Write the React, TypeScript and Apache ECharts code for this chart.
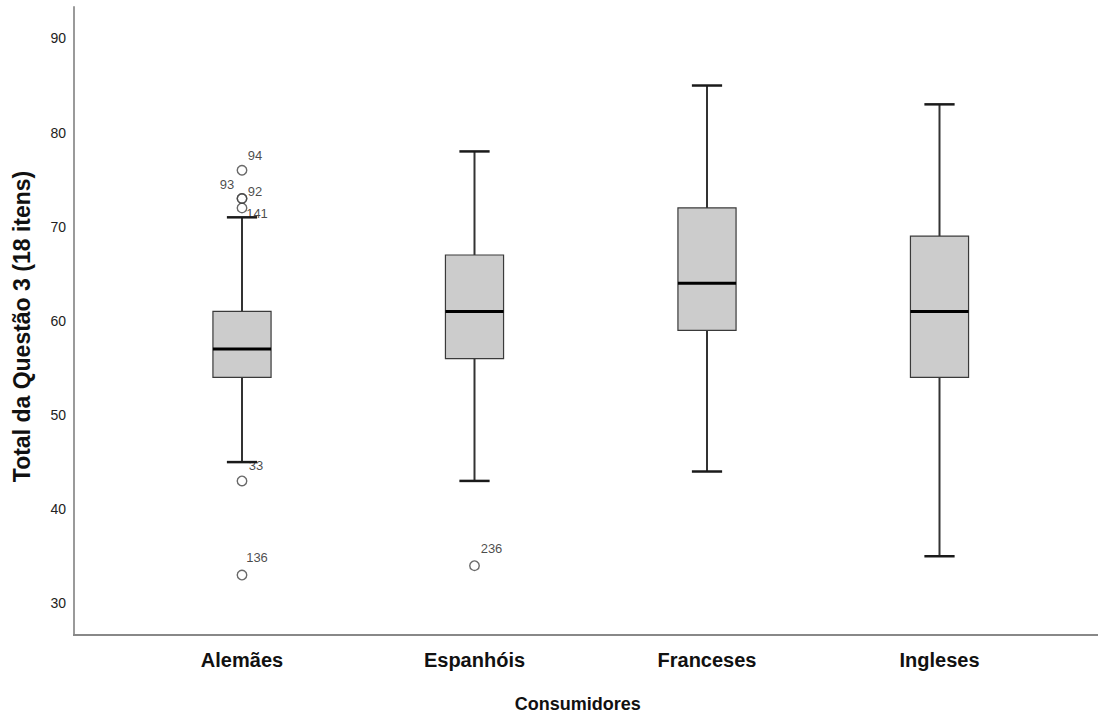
import React, { useEffect, useRef } from "react";
import * as echarts from "echarts";

const categories = ["Alemães", "Espanhóis", "Franceses", "Ingleses"];
// [categoryIndex, lowWhisker, Q1, median, Q3, highWhisker]
const boxValues = [
  [0, 45, 54, 57, 61, 71],
  [1, 43, 56, 61, 67, 78],
  [2, 44, 59, 64, 72, 85],
  [3, 35, 54, 61, 69, 83],
];
// outliers: category index, value, case label
const outlierCats = [0, 0, 0, 0, 0, 0, 1];
const outlierValues = [76, 73, 73, 72, 43, 33, 34];
const outlierLabels = ["94", "93", "92", "141", "33", "136", "236"];
const labelOffsets = [
  [13, -15],
  [-15, -14],
  [13, -7],
  [15, 6],
  [14, -15],
  [15, -18],
  [17, -17],
];
const yTicks = [30, 40, 50, 60, 70, 80, 90];

const FONT = "'Liberation Sans', Arial, sans-serif";

export default function App() {
  const ref = useRef<HTMLDivElement>(null);
  useEffect(() => {
    if (!ref.current) return;
    const chart = echarts.init(ref.current, null, { renderer: "svg" });
    const option: any = {
      animation: false,
      backgroundColor: "#ffffff",
      textStyle: { fontFamily: FONT },
      grid: { left: 125.75, right: 42.25, top: 7, bottom: 83 },
      xAxis: {
        type: "category",
        data: categories,
        boundaryGap: true,
        axisLine: { show: false },
        axisTick: { show: false },
        axisLabel: {
          fontFamily: FONT,
          fontSize: 20,
          fontWeight: "bold",
          color: "#111",
          margin: 16,
        },
        name: "Consumidores",
        nameLocation: "middle",
        nameGap: 61,
        nameTextStyle: {
          fontFamily: FONT,
          fontSize: 18,
          fontWeight: "bold",
          color: "#111",
          padding: [0, 26, 0, 0],
        },
      },
      yAxis: {
        type: "value",
        min: 26.74,
        max: 93.34,
        offset: 51.75,
        splitLine: { show: false },
        axisLine: { show: true, lineStyle: { color: "#9a9a9a", width: 2 } },
        axisTick: { show: false },
        axisLabel: {
          customValues: yTicks,
          fontFamily: FONT,
          fontSize: 14,
          color: "#222",
          margin: 8,
          padding: [6, 0, 0, 0],
        },
        name: "Total da Questão 3 (18 itens)",
        nameLocation: "middle",
        nameGap: 41,
        nameTextStyle: {
          fontFamily: FONT,
          fontSize: 23,
          fontWeight: "bold",
          color: "#111",
          padding: [0, 12, 0, 0],
        },
      },
      graphic: [
        {
          type: "line",
          shape: { x1: 73, y1: 635, x2: 1098, y2: 635 },
          style: { stroke: "#888", lineWidth: 2 },
          z: 10,
        },
      ],
      series: [
        {
          type: "custom",
          data: boxValues,
          encode: { x: 0, y: [1, 2, 3, 4, 5] },
          z: 2,
          renderItem: (params: any, api: any) => {
            const idx = api.value(0);
            const low = api.coord([idx, api.value(1)]);
            const q1 = api.coord([idx, api.value(2)]);
            const med = api.coord([idx, api.value(3)]);
            const q3 = api.coord([idx, api.value(4)]);
            const high = api.coord([idx, api.value(5)]);
            const band = api.size([1, 0])[0];
            const bw = band * 0.25;
            const cw = band * 0.13;
            const x = low[0];
            const stem = { stroke: "#333", lineWidth: 2 };
            const cap = { stroke: "#1a1a1a", lineWidth: 2.5 };
            return {
              type: "group",
              children: [
                { type: "line", shape: { x1: x, y1: high[1], x2: x, y2: q3[1] }, style: stem },
                { type: "line", shape: { x1: x, y1: q1[1], x2: x, y2: low[1] }, style: stem },
                { type: "line", shape: { x1: x - cw / 2, y1: high[1], x2: x + cw / 2, y2: high[1] }, style: cap },
                { type: "line", shape: { x1: x - cw / 2, y1: low[1], x2: x + cw / 2, y2: low[1] }, style: cap },
                {
                  type: "rect",
                  shape: { x: x - bw / 2, y: q3[1], width: bw, height: q1[1] - q3[1] },
                  style: { fill: "#cccccc", stroke: "#3a3a3a", lineWidth: 1.2 },
                },
                {
                  type: "line",
                  shape: { x1: x - bw / 2, y1: med[1], x2: x + bw / 2, y2: med[1] },
                  style: { stroke: "#000", lineWidth: 3 },
                },
              ],
            };
          },
        },
        {
          type: "scatter",
          z: 3,
          symbol: "circle",
          symbolSize: 9.5,
          itemStyle: { color: "rgba(0,0,0,0)", borderColor: "#444", borderWidth: 1.4 },
          data: outlierValues.map((v, i) => ({
            value: [outlierCats[i], v],
            name: outlierLabels[i],
            label: {
              show: true,
              position: "inside",
              offset: labelOffsets[i],
              formatter: outlierLabels[i],
              fontFamily: FONT,
              fontSize: 13,
              color: "#1a1a1a",
            },
          })),
        },
      ],
    };
    chart.setOption(option);
    return () => chart.dispose();
  }, []);
  return (
    <div
      ref={ref}
      style={{ position: "fixed", left: 0, top: 0, width: 1098, height: 718 }}
    />
  );
}
